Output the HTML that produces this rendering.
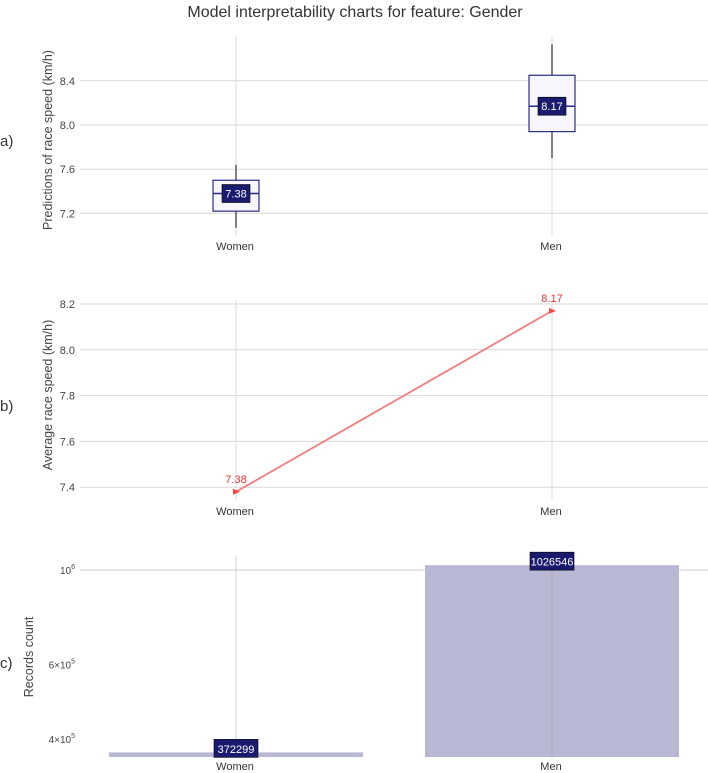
<!DOCTYPE html>
<html><head><meta charset="utf-8">
<style>
html,body{margin:0;padding:0;background:#fff;}
svg{display:block;font-family:"Liberation Sans",sans-serif;}
</style></head>
<body>
<svg id="chart" width="708" height="773" viewBox="0 0 708 773" xmlns="http://www.w3.org/2000/svg">
<text x="355" y="17" text-anchor="middle" font-size="16" fill="#333">Model interpretability charts for feature: Gender</text>
<g id="pa"></g>
<g id="pb"></g>
<g id="pc"></g>
</svg>
<script>
const categories = ["Women", "Men"];
// panel a: box stats
const boxLow = [7.07, 7.70];
const boxQ1 = [7.22, 7.94];
const boxMedian = [7.38, 8.17];
const boxQ3 = [7.50, 8.45];
const boxHigh = [7.64, 8.73];
const ticksA = [7.2, 7.6, 8.0, 8.4];
// panel b: averages
const avgSpeed = [7.38, 8.17];
const ticksB = [7.4, 7.6, 7.8, 8.0, 8.2];
// panel c: counts (log scale)
const counts = [372299, 1026546];
const ticksC = [400000, 600000, 1000000];
const ticksCLabel = [["4","5"], ["6","5"], [null,"6"]];

const NS = "http://www.w3.org/2000/svg";
function mk(parent, tag, attrs, text){
  const e = document.createElementNS(NS, tag);
  for (const k in attrs) e.setAttribute(k, attrs[k]);
  if (text !== undefined) e.textContent = text;
  parent.appendChild(e);
  return e;
}
const xCat = i => [236, 552][i];
const GRID = "#d9d9d9";
const TICKX = 75;

// ---------- Panel A ----------
const pa = document.getElementById('pa');
const yA = v => 125 - (v - 8.0) * 110.5;
ticksA.forEach(t => {
  const l = mk(pa, 'line', {x1:80, x2:708, y1:yA(t), y2:yA(t), stroke:GRID, 'stroke-width':1});
  
  
  const tx = mk(pa, 'text', {x:TICKX, y:yA(t)+4, 'text-anchor':'end', 'font-size':11, fill:'#444'}, t.toFixed(1));
  
  
});
categories.forEach((c, i) => {
  const x = xCat(i);
  const v = mk(pa, 'line', {x1:x, x2:x, y1:36, y2:236, stroke:GRID, 'stroke-width':1});
  
  
  const w = mk(pa, 'line', {x1:x, x2:x, y1:yA(boxHigh[i]), y2:yA(boxLow[i]), stroke:'#555', 'stroke-width':1.5});
  
  
  const b = mk(pa, 'rect', {x:x-23, y:yA(boxQ3[i]), width:46, height:yA(boxQ1[i])-yA(boxQ3[i]), fill:'#f6f6fc', stroke:'#2b2b8a', 'stroke-width':1.2});
  
  
  const m = mk(pa, 'line', {x1:x-23, x2:x+23, y1:yA(boxMedian[i]), y2:yA(boxMedian[i]), stroke:'#2b2b8a', 'stroke-width':1.5});
  
  
  const r = mk(pa, 'rect', {x:x-14, y:yA(boxMedian[i])-9, width:28, height:18, fill:'#1a1a6e', stroke:'#000', 'stroke-width':0.6});
  
  
  const t = mk(pa, 'text', {x:x, y:yA(boxMedian[i])+4, 'text-anchor':'middle', 'font-size':11, fill:'#fff'}, boxMedian[i].toFixed(2));
  
  
  const xl = mk(pa, 'text', {x:x-1, y:250, 'text-anchor':'middle', 'font-size':11, fill:'#333'}, c);
  
  
});
const ta = mk(pa, 'text', {transform:'translate(52,140) rotate(-90)', 'text-anchor':'middle', 'font-size':12.5, fill:'#444'}, 'Predictions of race speed (km/h)');


const la = mk(pa, 'text', {x:0, y:146, 'font-size':15, fill:'#333'}, 'a)');



// ---------- Panel B ----------
const pb = document.getElementById('pb');
const yB = v => 304 + (8.2 - v) * 229;
ticksB.forEach(t => {
  const l = mk(pb, 'line', {x1:80, x2:708, y1:yB(t), y2:yB(t), stroke:GRID, 'stroke-width':1});
  
  
  const tx = mk(pb, 'text', {x:TICKX, y:yB(t)+4, 'text-anchor':'end', 'font-size':11, fill:'#444'}, t.toFixed(1));
  
  
});
categories.forEach((c, i) => {
  const x = xCat(i);
  const v = mk(pb, 'line', {x1:x, x2:x, y1:300, y2:500, stroke:GRID, 'stroke-width':1});
  
  
  const xl = mk(pb, 'text', {x:x-1, y:515, 'text-anchor':'middle', 'font-size':11, fill:'#333'}, c);
  
  
});
const pts = avgSpeed.map((v, i) => xCat(i) + ',' + yB(v)).join(' ');
const pl = mk(pb, 'polyline', {points:pts, fill:'none', stroke:'#f47c7c', 'stroke-width':1.8});


avgSpeed.forEach((v, i) => {
  const x = xCat(i), y = yB(v);
  const m = mk(pb, 'path', {d:`M${x-3},${y-3} L${x+4},${y} L${x-3},${y+3} Z`, fill:'#f44'});
  
  
  const t = mk(pb, 'text', {x:x, y:y-9, 'text-anchor':'middle', 'font-size':11, fill:'#e33'}, v.toFixed(2));
  
  
});
const tb = mk(pb, 'text', {transform:'translate(52,395) rotate(-90)', 'text-anchor':'middle', 'font-size':12.5, fill:'#444'}, 'Average race speed (km/h)');


const lb = mk(pb, 'text', {x:0, y:411, 'font-size':15, fill:'#333'}, 'b)');



// ---------- Panel C ----------
const pc = document.getElementById('pc');
const yC = v => 570 + (6 - Math.log10(v)) * 425;
const baseC = 757;
const g1 = mk(pc, 'line', {x1:80, x2:708, y1:yC(1000000), y2:yC(1000000), stroke:'#d0d0d8', 'stroke-width':1});


categories.forEach((c, i) => {
  const x = xCat(i);
  const b = mk(pc, 'rect', {x:x-127, y:yC(counts[i]), width:254, height:baseC-yC(counts[i]), fill:'#b8b8d4'});
  
  
  const v = mk(pc, 'line', {x1:x, x2:x, y1:556, y2:baseC, stroke:'#999', 'stroke-opacity':0.45, 'stroke-width':1});
  
  
  const r = mk(pc, 'rect', {x:x-22, y:yC(counts[i])-13, width:44, height:18, fill:'#1a1a6e', stroke:'#000', 'stroke-width':0.6});
  
  
  const t = mk(pc, 'text', {x:x, y:yC(counts[i])+0.5, 'text-anchor':'middle', 'font-size':11, fill:'#fff'}, String(counts[i]));
  
  
  const xl = mk(pc, 'text', {x:x-1, y:770, 'text-anchor':'middle', 'font-size':11, fill:'#333'}, c);
  
  
});
ticksC.forEach((t, i) => {
  const [m, e] = ticksCLabel[i];
  const y = yC(t) + 4;
  const tx = mk(pc, 'text', {x:TICKX, y:y, 'text-anchor':'end', 'font-size':10, fill:'#444'});
  
  
  mk(tx, 'tspan', {}, (m ? m + '\u00d7' : '') + '10');
  mk(tx, 'tspan', {dy:-5, 'font-size':7}, e);
});
const tc = mk(pc, 'text', {transform:'translate(33,657) rotate(-90)', 'text-anchor':'middle', 'font-size':12.5, fill:'#444'}, 'Records count');


const lc = mk(pc, 'text', {x:0, y:668, 'font-size':15, fill:'#333'}, 'c)');


</script>
</body></html>
